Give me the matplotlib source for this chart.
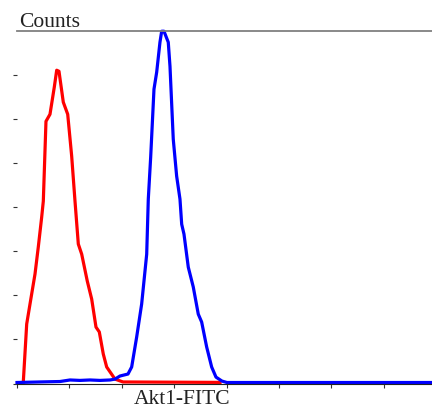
import matplotlib
matplotlib.use("Agg")
import matplotlib.pyplot as plt

# channel (x) and counts (y)
red_x = [15.4, 23.7, 31.8, 44.0, 52.0, 60.3, 64.3, 70.8, 80.6, 91.1, 97.0,
         102.6, 113.1, 123.9, 133.6, 141.7, 149.8, 158.1, 171.7, 182.5,
         193.0, 201.1, 210.8, 219.1, 239.4, 259.0, 496.0]
red_y = [0.7, 27.0, 36.1, 49.7, 61.9, 75.5, 82.8, 119.0, 122.2, 134.5, 142.2,
         141.7, 127.7, 122.2, 103.2, 82.8, 63.3, 58.7, 46.5, 38.3,
         25.6, 23.4, 13.4, 7.5, 2.0, 0.7, 0.5]

blue_x = [0.0, 56.2, 105.0, 129.5, 153.9, 178.3, 202.8, 227.2, 239.4, 251.6,
          271.2, 280.2, 292.4, 304.6, 316.9, 320.8, 326.6, 334.7, 341.3,
          349.3, 353.5, 359.1, 369.6, 373.8, 381.8, 390.1, 398.2, 402.4,
          408.0, 418.5, 430.7, 442.9, 451.2, 463.4, 475.6, 486.2, 500.8,
          513.0, 1014.0]
blue_y = [0.45, 0.7, 0.9, 1.6, 1.4, 1.6, 1.4, 1.6, 2.0, 3.4,
          4.3, 7.5, 21.1, 36.1, 58.7, 83.7, 102.7, 133.6, 141.3,
          154.9, 159.9, 159.9, 154.9, 144.0, 110.9, 94.1, 83.7, 72.3,
          67.8, 52.8, 43.8, 31.5, 27.9, 16.6, 7.5, 2.9, 1.1,
          0.45, 0.45]

x_ticks = [0, 128, 256, 384, 512, 640, 768, 896]
y_ticks = [0, 20, 40, 60, 80, 100, 120, 140]


def main():
    fig = plt.figure(figsize=(4.32, 4.10), dpi=100)
    ax = fig.add_axes([17 / 432, 25.5 / 410, 415 / 432, 352.5 / 410])

    ax.plot(red_x, red_y, color="#ff0000", lw=2.3, clip_on=False)
    ax.plot(blue_x, blue_y, color="#0000ff", lw=2.3, clip_on=False)

    ax.set_xlim(0, 1014)
    ax.set_ylim(0, 160)
    ax.set_xticks(x_ticks)
    ax.set_yticks(y_ticks)
    ax.set_xticklabels([])
    ax.set_yticklabels([])
    ax.tick_params(direction="out", length=3, width=0.8, color="#333333")

    ax.spines["left"].set_visible(False)
    ax.spines["right"].set_visible(False)
    ax.spines["top"].set_color("#808080")
    ax.spines["top"].set_linewidth(1.3)
    ax.spines["bottom"].set_color("#222222")
    ax.spines["bottom"].set_linewidth(0.8)

    fig.text(19 / 432, (410 - 27.3) / 410, "Counts", family="Liberation Serif",
             fontsize=15.5, ha="left", va="baseline", color="#222222")
    fig.text(182 / 432, 0.5 / 410, "Akt1-FITC", family="Liberation Serif",
             fontsize=15.5, ha="center", va="bottom", color="#222222")

    fig.savefig("out.png", dpi=100)


if __name__ == "__main__":
    main()
